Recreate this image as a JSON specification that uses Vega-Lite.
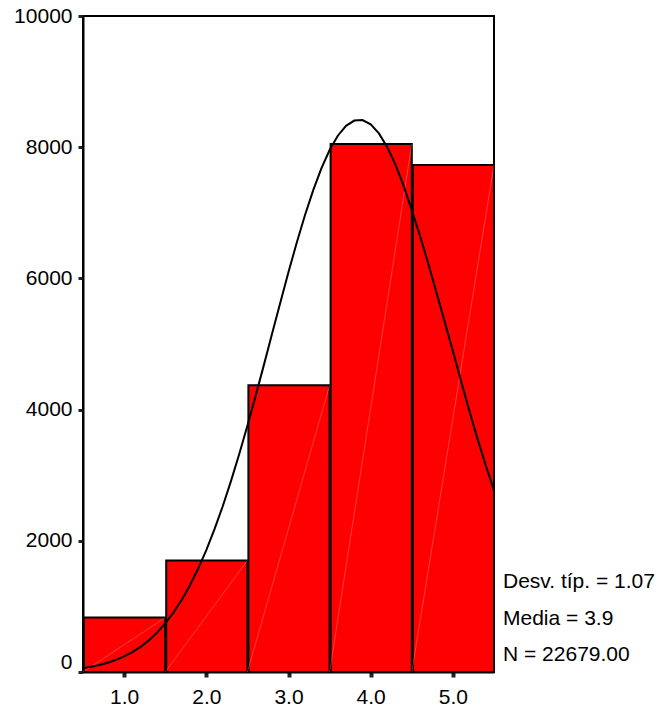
{
  "$schema": "https://vega.github.io/schema/vega-lite/v6.json",
  "autosize": "none",
  "width": 411,
  "height": 656,
  "padding": {"left": 83, "top": 16, "right": 166, "bottom": 34},
  "background": "white",
  "config": {
    "view": {"stroke": "black", "strokeWidth": 2},
    "axis": {"labelFont": "Liberation Sans", "labelFontSize": 21, "labelColor": "black", "domainColor": "black", "domainWidth": 2, "tickColor": "#222222", "grid": false, "title": null}
  },
  "datasets": {
    "bins": [
      {"bin_start": 0.5, "bin_end": 1.5, "count": 830},
      {"bin_start": 1.5, "bin_end": 2.5, "count": 1700},
      {"bin_start": 2.5, "bin_end": 3.5, "count": 4370},
      {"bin_start": 3.5, "bin_end": 4.5, "count": 8050},
      {"bin_start": 4.5, "bin_end": 5.5, "count": 7729}
    ],
    "curve": [
      {"x": 0.5, "y": 61}, {"x": 0.6, "y": 81}, {"x": 0.7, "y": 108}, {"x": 0.8, "y": 141}, {"x": 0.9, "y": 184},
      {"x": 1.0, "y": 237}, {"x": 1.1, "y": 302}, {"x": 1.2, "y": 383}, {"x": 1.3, "y": 481}, {"x": 1.4, "y": 599},
      {"x": 1.5, "y": 740}, {"x": 1.6, "y": 905}, {"x": 1.7, "y": 1098}, {"x": 1.8, "y": 1320}, {"x": 1.9, "y": 1573},
      {"x": 2.0, "y": 1858}, {"x": 2.1, "y": 2177}, {"x": 2.2, "y": 2527}, {"x": 2.3, "y": 2909}, {"x": 2.4, "y": 3319},
      {"x": 2.5, "y": 3754}, {"x": 2.6, "y": 4209}, {"x": 2.7, "y": 4678}, {"x": 2.8, "y": 5155}, {"x": 2.9, "y": 5630},
      {"x": 3.0, "y": 6096}, {"x": 3.1, "y": 6543}, {"x": 3.2, "y": 6962}, {"x": 3.3, "y": 7342}, {"x": 3.4, "y": 7677},
      {"x": 3.5, "y": 7957}, {"x": 3.6, "y": 8175}, {"x": 3.7, "y": 8326}, {"x": 3.8, "y": 8406}, {"x": 3.9, "y": 8414},
      {"x": 4.0, "y": 8348}, {"x": 4.1, "y": 8210}, {"x": 4.2, "y": 8005}, {"x": 4.3, "y": 7738}, {"x": 4.4, "y": 7414},
      {"x": 4.5, "y": 7041}, {"x": 4.6, "y": 6649}, {"x": 4.7, "y": 6227}, {"x": 4.8, "y": 5784}, {"x": 4.9, "y": 5340},
      {"x": 5.0, "y": 4893}, {"x": 5.1, "y": 4432}, {"x": 5.2, "y": 3984}, {"x": 5.3, "y": 3554}, {"x": 5.4, "y": 3149},
      {"x": 5.5, "y": 2771}
    ],
    "stats": [
      {"label": "Desv. típ. = 1.07", "pos": 1372},
      {"label": "Media = 3.9", "pos": 808},
      {"label": "N = 22679.00", "pos": 259}
    ]
  },
  "layer": [
    {
      "data": {"name": "bins"},
      "mark": {"type": "bar", "fill": "#FF0000", "stroke": "black", "strokeWidth": 2},
      "encoding": {
        "x": {"field": "bin_start", "type": "quantitative", "bin": {"binned": true, "step": 1},
              "scale": {"domain": [0.5, 5.5], "nice": false, "zero": false},
              "axis": {"values": [1, 2, 3, 4, 5], "format": ".1f", "tickSize": 5, "tickWidth": 4, "labelPadding": 9, "labelFlush": false}},
        "x2": {"field": "bin_end"},
        "y": {"field": "count", "type": "quantitative", "scale": {"domain": [0, 10000], "nice": false},
              "axis": {"values": [0, 2000, 4000, 6000, 8000, 10000], "format": "d", "tickSize": 5, "tickWidth": 3, "labelPadding": 6,
                       "labelOffset": {"condition": {"test": "datum.value === 0", "value": -10}, "value": 0}}}
      }
    },
    {
      "data": {"name": "bins"},
      "mark": {"type": "rule", "color": "white", "opacity": 0.35, "strokeWidth": 0.7},
      "encoding": {
        "x": {"field": "bin_end", "type": "quantitative"},
        "x2": {"field": "bin_start"},
        "y": {"field": "count", "type": "quantitative"},
        "y2": {"datum": 0}
      }
    },
    {
      "data": {"name": "curve"},
      "mark": {"type": "line", "color": "black", "strokeWidth": 2},
      "encoding": {
        "x": {"field": "x", "type": "quantitative"},
        "y": {"field": "y", "type": "quantitative"}
      }
    },
    {
      "data": {"name": "stats"},
      "mark": {"type": "text", "align": "left", "baseline": "middle", "font": "Liberation Sans", "fontSize": 21, "color": "black", "dx": 9, "clip": false},
      "encoding": {
        "x": {"datum": 5.5, "type": "quantitative"},
        "y": {"field": "pos", "type": "quantitative"},
        "text": {"field": "label"}
      }
    }
  ]
}
